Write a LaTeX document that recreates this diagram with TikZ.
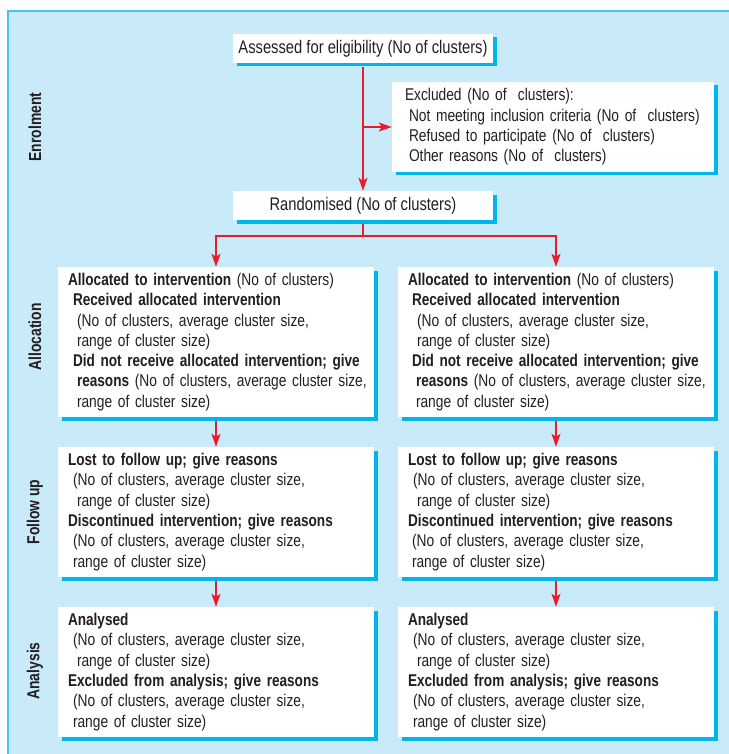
\documentclass[tikz,border=0pt]{standalone}
\usepackage{fontspec}
\setmainfont{Liberation Sans}[FakeStretch=0.81,BoldFeatures={FakeStretch=0.80}]
\usetikzlibrary{arrows.meta,shadows}
\definecolor{panelblue}{HTML}{C9EAF9}
\definecolor{edgeblue}{HTML}{4CC3EE}
\definecolor{shadowblue}{HTML}{00B5EB}
\definecolor{arrowred}{HTML}{E61E2B}
\definecolor{inktext}{HTML}{231F20}
\newcommand{\ind}[1]{\hspace*{#1pt}}

\begin{document}
\begin{tikzpicture}[x=1pt,y=-1pt,
    box/.style={fill=white, text=inktext, inner xsep=5pt, inner ysep=0pt,
      align=left, font=\fontsize{17}{20.3}\selectfont,
      drop shadow={shadow xshift=3.5pt, shadow yshift=-3.5pt, opacity=1, fill=shadowblue}},
    line/.style={box, align=center, inner xsep=0pt, minimum width=260pt, minimum height=29pt,
      font=\fontsize{18.2}{20}\selectfont},
    side/.style={rotate=90, text=inktext, font=\bfseries\fontsize{17.4}{20}\selectfont},
    arr/.style={arrowred, line width=1.8pt, -{Stealth[length=13pt,width=9pt,inset=3pt]}},
    thin/.style={arr, line width=1.4pt, shorten <=3.5pt}]
      \useasboundingbox (0,0) rectangle (728,754);
      \fill[panelblue] (8,11) rectangle (740,766);
      \draw[edgeblue, line width=1.8pt] (8,766) -- (8,11) -- (740,11);

      % stage labels
      \node[side] (enrol) at (35,127) {Enrolment};
      \node[side] (alloc) at (35,337) {Allocation};
      \node[side] (follow) at (35,512) {Follow up};
      \node[side] (anal) at (35,671) {Analysis};

      % enrolment
      \node[line] (assess) at (363,48.5) {Assessed for eligibility (No of clusters)};
      \node[box, text width=312pt, minimum height=90pt] (excl) at (553,127)
        {\ind{8}Excluded (No of\ \ clusters):\\
         \ind{12}Not meeting inclusion criteria (No of\ \ clusters)\\
         \ind{12}Refused to participate (No of\ \ clusters)\\
         \ind{12}Other reasons (No of\ \ clusters)};
      \node[line] (rand) at (363,205.5) {Randomised (No of clusters)};
      \coordinate (split) at (363,236);

      % allocation
      \node[box, text width=306pt, minimum height=150pt] (allocL) at (216,342)
        {\ind{5}\textbf{Allocated to intervention} (No of clusters)\\
         \ind{10}\textbf{Received allocated intervention}\\
         \ind{14}(No of clusters, average cluster size,\\
         \ind{14}range of cluster size)\\
         \ind{10}\textbf{Did not receive allocated intervention; give}\\
         \ind{14}\textbf{reasons} (No of clusters, average cluster size,\\
         \ind{14}range of cluster size)};
      \node[box, text width=306pt, minimum height=150pt] (allocR) at (556,342)
        {\ind{5}\textbf{Allocated to intervention} (No of clusters)\\
         \ind{9}\textbf{Received allocated intervention}\\
         \ind{14}(No of clusters, average cluster size,\\
         \ind{14}range of cluster size)\\
         \ind{9}\textbf{Did not receive allocated intervention; give}\\
         \ind{13}\textbf{reasons} (No of clusters, average cluster size,\\
         \ind{13}range of cluster size)};

      % follow up
      \node[box, text width=306pt, minimum height=130pt] (followL) at (216,512)
        {\ind{5}\textbf{Lost to follow up; give reasons}\\
         \ind{10}(No of clusters, average cluster size,\\
         \ind{14}range of cluster size)\\
         \ind{5}\textbf{Discontinued intervention; give reasons}\\
         \ind{10}(No of clusters, average cluster size,\\
         \ind{10}range of cluster size)};
      \node[box, text width=306pt, minimum height=130pt] (followR) at (556,512)
        {\ind{5}\textbf{Lost to follow up; give reasons}\\
         \ind{10}(No of clusters, average cluster size,\\
         \ind{14}range of cluster size)\\
         \ind{5}\textbf{Discontinued intervention; give reasons}\\
         \ind{9}(No of clusters, average cluster size,\\
         \ind{9}range of cluster size)};

      % analysis
      \node[box, text width=306pt, minimum height=130pt] (analL) at (216,672)
        {\ind{5}\textbf{Analysed}\\
         \ind{10}(No of clusters, average cluster size,\\
         \ind{14}range of cluster size)\\
         \ind{5}\textbf{Excluded from analysis; give reasons}\\
         \ind{10}(No of clusters, average cluster size,\\
         \ind{10}range of cluster size)};
      \node[box, text width=306pt, minimum height=130pt] (analR) at (556,672)
        {\ind{5}\textbf{Analysed}\\
         \ind{10}(No of clusters, average cluster size,\\
         \ind{14}range of cluster size)\\
         \ind{5}\textbf{Excluded from analysis; give reasons}\\
         \ind{10}(No of clusters, average cluster size,\\
         \ind{10}range of cluster size)};

      % connectors
      \draw[arr, shorten <=3.5pt] (assess.south) -- (rand.north);
      \draw[arr] (assess.south |- excl.west) -- (excl.west);
      \draw[arr, shorten <=3.5pt] (rand.south) -- (split) -| (allocL.north);
      \draw[arr] (split) -| (allocR.north);
      \draw[thin] (allocL.south) -- (followL.north);
      \draw[thin] (allocR.south) -- (followR.north);
      \draw[thin] (followL.south) -- (analL.north);
      \draw[thin] (followR.south) -- (analR.north);
    \end{tikzpicture}
\end{document}
